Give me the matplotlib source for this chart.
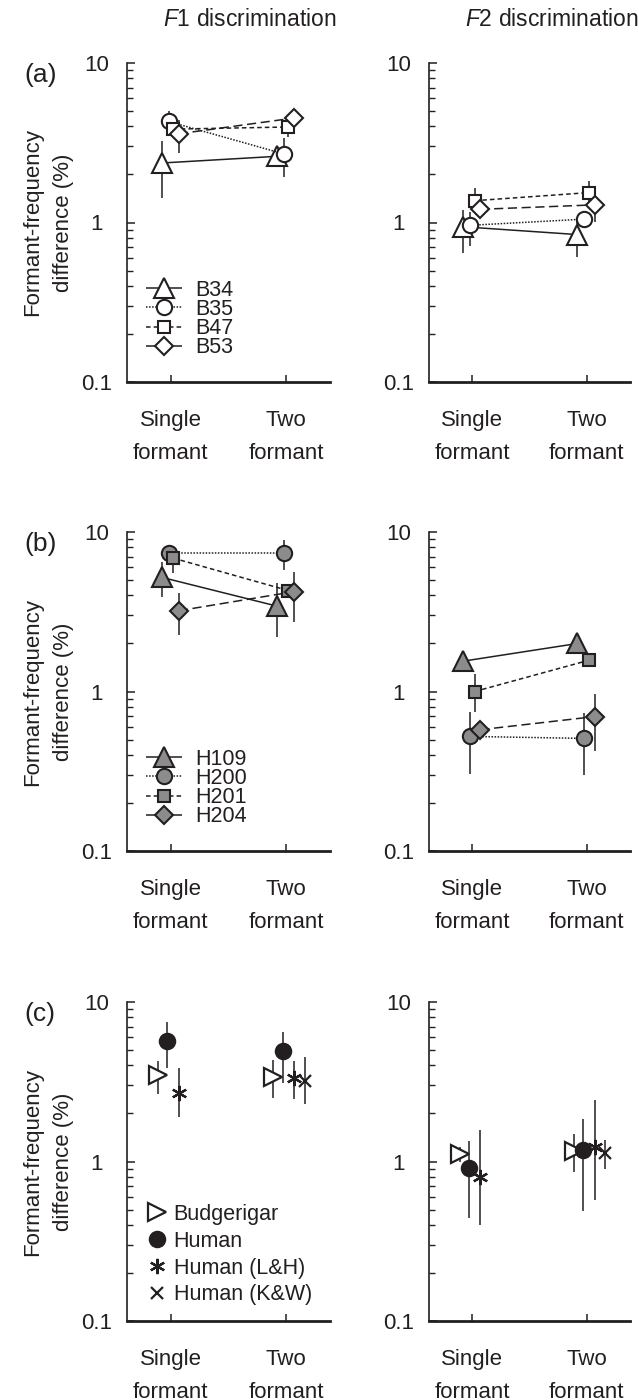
import matplotlib
matplotlib.use("Agg")
import matplotlib.pyplot as plt
from matplotlib.ticker import FixedLocator, NullFormatter
import numpy as np

plt.rcParams["font.family"] = ["Liberation Sans", "DejaVu Sans"]
plt.rcParams["mathtext.fontset"] = "custom"
plt.rcParams["mathtext.rm"] = "Liberation Sans"
plt.rcParams["mathtext.it"] = "Liberation Sans:italic"

INK = "#231f20"

# ---- data (formant-frequency difference, %) ----
conditions = ["Single\nformant", "Two\nformant"]

# (a) budgerigars, open symbols
budgie_ids = ["B34", "B35", "B47", "B53"]
budgie_f1 = [[2.36, 2.60], [4.30, 2.69], [3.85, 3.97], [3.60, 4.52]]
budgie_f1_lo = [[0.94, 0.35], [0.57, 0.75], [0.30, 0.54], [0.88, 0.30]]
budgie_f1_hi = [[0.86, 0.35], [0.67, 0.69], [0.30, 0.30], [0.81, 0.30]]
budgie_f2 = [[0.94, 0.84], [0.96, 1.05], [1.37, 1.54], [1.21, 1.29]]
budgie_f2_lo = [[0.30, 0.23], [0.25, 0.12], [0.20, 0.20], [0.15, 0.28]]
budgie_f2_hi = [[0.26, 0.20], [0.21, 0.12], [0.27, 0.29], [0.15, 0.17]]

# (b) humans, grey symbols
human_ids = ["H109", "H200", "H201", "H204"]
human_f1 = [[5.20, 3.43], [7.37, 7.37], [6.86, 4.29], [3.21, 4.23]]
human_f1_lo = [[1.27, 1.23], [0.50, 1.58], [1.34, 0.40], [0.96, 1.49]]
human_f1_hi = [[1.33, 1.34], [0.50, 1.58], [0.50, 0.40], [0.92, 1.42]]
human_f2 = [[1.55, 2.00], [0.523, 0.508], [1.00, 1.57], [0.576, 0.696]]
human_f2_lo = [[0.05, 0.05], [0.22, 0.21], [0.26, 0.12], [0.05, 0.27]]
human_f2_hi = [[0.05, 0.05], [0.22, 0.22], [0.28, 0.15], [0.05, 0.27]]

# (c) group means
group_ids = ["Budgerigar", "Human", "Human (L&H)", "Human (K&W)"]
group_f1 = [[3.48, 3.40], [5.73, 4.90], [2.70, 3.36], [np.nan, 3.20]]
group_f1_lo = [[0.82, 0.89], [1.85, 1.78], [0.80, 0.90], [np.nan, 0.92]]
group_f1_hi = [[0.80, 0.92], [1.75, 1.63], [1.18, 0.90], [np.nan, 1.30]]
group_f2 = [[1.12, 1.16], [0.91, 1.18], [0.80, 1.23], [np.nan, 1.13]]
group_f2_lo = [[0.12, 0.30], [0.47, 0.69], [0.40, 0.66], [np.nan, 0.23]]
group_f2_hi = [[0.12, 0.33], [0.44, 0.68], [0.78, 1.19], [np.nan, 0.24]]

# ---- styles ----
subj_markers = ["^", "o", "s", "D"]
subj_msize = [14, 11, 8.5, 9.5]
subj_lines = [(0, ()), (0, (1, 1)), (0, (3, 2)), (0, (6, 3))]
subj_offsets = [-0.08, -0.02, 0.02, 0.07]

group_markers = [">", "o", (6, 2, 0), "x"]
group_msize = [13, 11, 11, 8]
group_fill = ["white", INK, INK, INK]
group_offsets = [-0.11, -0.03, 0.07, 0.16]

# ---- layout (pixels of a 639 x 1400 figure) ----
W, H = 639, 1400
col_x = [127, 429]
col_w = [203, 201]
row_top = [63, 532, 1002]
row_h = 319

fig = plt.figure(figsize=(W / 100, H / 100), dpi=100)


def make_axes(row, col):
    ax = fig.add_axes([col_x[col] / W, 1 - (row_top[row] + row_h) / H,
                       col_w[col] / W, row_h / H])
    ax.set_yscale("log")
    ax.set_ylim(0.1, 10)
    ax.set_xlim(0.62, 2.38)
    for side in ("top", "right"):
        ax.spines[side].set_visible(False)
    ax.spines["left"].set_linewidth(1.2)
    ax.spines["bottom"].set_linewidth(2.0)
    ax.spines["left"].set_color(INK)
    ax.spines["bottom"].set_color(INK)

    ax.yaxis.set_major_locator(FixedLocator([0.1, 1, 10]))
    minors = [m * d for d in (0.1, 1) for m in range(2, 10)]
    ax.yaxis.set_minor_locator(FixedLocator(minors))
    ax.yaxis.set_minor_formatter(NullFormatter())
    ax.set_yticks([0.1, 1, 10])
    ax.set_yticklabels(["0.1", "1", "10"])
    ax.tick_params(axis="y", which="major", direction="in", length=6,
                   width=1.1, color=INK, labelsize=16, labelcolor=INK, pad=22)
    ax.tick_params(axis="y", which="minor", direction="in", length=4,
                   width=1.0, color=INK)
    plt.setp(ax.get_yticklabels(), ha="center")

    ax.set_xticks([1, 2])
    ax.set_xticklabels(conditions)
    ax.tick_params(axis="x", direction="in", length=5, width=1.1, color=INK,
                   labelsize=16, labelcolor=INK, pad=20)
    plt.setp(ax.get_xticklabels(), linespacing=1.75)

    if col == 0:
        ax.set_ylabel("Formant-frequency\ndifference (%)", fontsize=16,
                      color=INK, linespacing=1.6)
        ax.yaxis.set_label_coords(-0.26, 0.5)
    return ax


def plot_subjects(ax, ids, vals, lo, hi, face, legend):
    x = np.arange(1, len(conditions) + 1)
    for i, name in enumerate(ids):
        xi = x + subj_offsets[i]
        ax.errorbar(xi, vals[i], yerr=[lo[i], hi[i]], fmt="none",
                    ecolor=INK, elinewidth=1.1, capsize=0, zorder=2)
        ax.plot(xi, vals[i], linestyle=subj_lines[i], color=INK, lw=1.1,
                marker=subj_markers[i], ms=subj_msize[i], mfc=face,
                mec=INK, mew=1.5, label=name, zorder=3 + i)
    if legend:
        ax.legend(loc="lower left", bbox_to_anchor=(0.04, 0.04),
                  frameon=False, fontsize=15.5, handlelength=1.7,
                  handletextpad=0.6, labelspacing=-0.08, borderpad=0,
                  labelcolor=INK)


def plot_groups(ax, vals, lo, hi, legend):
    x = np.arange(1, len(conditions) + 1)
    for i, name in enumerate(group_ids):
        xi = x + group_offsets[i]
        ax.errorbar(xi, vals[i], yerr=[lo[i], hi[i]], fmt="none",
                    ecolor=INK, elinewidth=1.1, capsize=0, zorder=2)
        ax.plot(xi, vals[i], linestyle="none", marker=group_markers[i],
                ms=group_msize[i], mfc=group_fill[i], mec=INK, mew=1.6,
                label=name, zorder=3 + i)
    if legend:
        ax.legend(loc="lower left", bbox_to_anchor=(0.06, 0.015),
                  frameon=False, fontsize=15.5, handlelength=0.7,
                  handletextpad=0.4, labelspacing=0.27, borderpad=0,
                  labelcolor=INK)


panels = [
    (budgie_f1, budgie_f1_lo, budgie_f1_hi, budgie_f2, budgie_f2_lo, budgie_f2_hi),
    (human_f1, human_f1_lo, human_f1_hi, human_f2, human_f2_lo, human_f2_hi),
    (group_f1, group_f1_lo, group_f1_hi, group_f2, group_f2_lo, group_f2_hi),
]
panel_tags = ["(a)", "(b)", "(c)"]

for row, (v1, l1, h1, v2, l2, h2) in enumerate(panels):
    ax1 = make_axes(row, 0)
    ax2 = make_axes(row, 1)
    if row == 0:
        plot_subjects(ax1, budgie_ids, v1, l1, h1, "white", True)
        plot_subjects(ax2, budgie_ids, v2, l2, h2, "white", False)
    elif row == 1:
        plot_subjects(ax1, human_ids, v1, l1, h1, "#8c8c8c", True)
        plot_subjects(ax2, human_ids, v2, l2, h2, "#8c8c8c", False)
    else:
        plot_groups(ax1, v1, l1, h1, True)
        plot_groups(ax2, v2, l2, h2, False)
    fig.text(24 / W, 1 - (row_top[row] + 12) / H, panel_tags[row],
             fontsize=19, color=INK, ha="left", va="center")

fig.text(250 / W, 1 - 20 / H, r"$\mathit{F}$1 discrimination",
         fontsize=16.5, color=INK, ha="center", va="center")
fig.text(552 / W, 1 - 20 / H, r"$\mathit{F}$2 discrimination",
         fontsize=16.5, color=INK, ha="center", va="center")

fig.savefig("out.png", dpi=100, facecolor="white")
